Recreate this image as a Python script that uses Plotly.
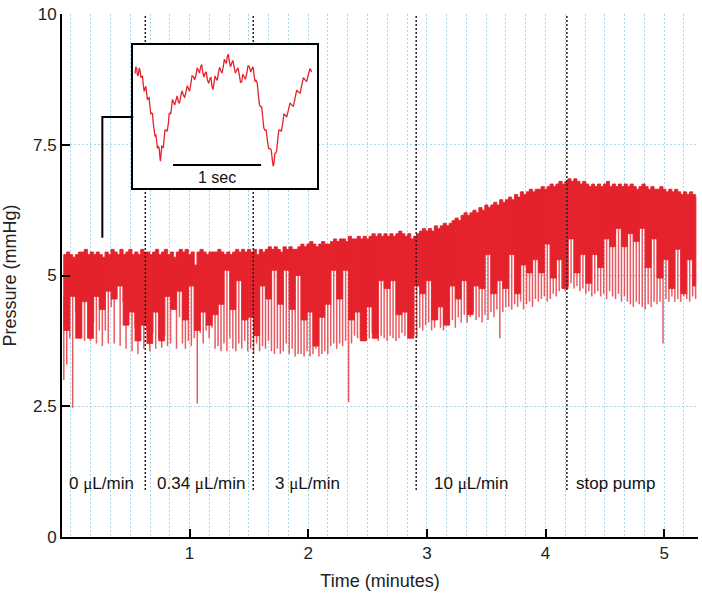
import plotly.graph_objects as go

# ---------------- main recording (sampled every 0.025 min) ----------------
t_start = -0.06
t_step = 0.025
upper = [
    5.4, 5.45, 5.4, 5.35, 5.4, 5.45, 5.45, 5.5, 5.4, 5.45,
    5.4, 5.45, 5.4, 5.35, 5.45, 5.4, 5.5, 5.45, 5.4, 5.5,
    5.4, 5.45, 5.5, 5.4, 5.45, 5.4, 5.5, 5.45, 5.45, 5.4,
    5.45, 5.5, 5.4, 5.45, 5.5, 5.4, 5.45, 5.35, 5.45, 5.5,
    5.45, 5.5, 5.4, 5.45, 5.2, 5.45, 5.5, 5.45, 5.4, 5.45,
    5.45, 5.45, 5.5, 5.45, 5.4, 5.45, 5.4, 5.45, 5.5, 5.45,
    5.5, 5.45, 5.5, 5.45, 5.5, 5.4, 5.5, 5.45, 5.5, 5.55,
    5.5, 5.55, 5.5, 5.45, 5.55, 5.5, 5.55, 5.5, 5.5, 5.55,
    5.6, 5.55, 5.6, 5.65, 5.6, 5.55, 5.6, 5.65, 5.6, 5.6,
    5.65, 5.7, 5.65, 5.7, 5.7, 5.65, 5.75, 5.7, 5.7, 5.75,
    5.7, 5.75, 5.7, 5.75, 5.8, 5.75, 5.8, 5.75, 5.8, 5.75,
    5.8, 5.75, 5.8, 5.85, 5.8, 5.75, 5.8, 5.7, 5.75, 5.8,
    5.85, 5.9, 5.85, 5.9, 5.85, 5.95, 5.9, 5.95, 6.0, 5.95,
    6.0, 6.05, 6.1, 6.05, 6.15, 6.2, 6.15, 6.2, 6.25, 6.2,
    6.3, 6.25, 6.35, 6.3, 6.35, 6.4, 6.35, 6.45, 6.4, 6.45,
    6.5, 6.45, 6.55, 6.5, 6.6, 6.55, 6.6, 6.65, 6.6, 6.65,
    6.65, 6.7, 6.65, 6.7, 6.75, 6.7, 6.75, 6.8, 6.75, 6.8,
    6.85, 6.8, 6.85, 6.8, 6.75, 6.8, 6.75, 6.7, 6.75, 6.7,
    6.75, 6.7, 6.75, 6.8, 6.7, 6.75, 6.7, 6.75, 6.7, 6.75,
    6.7, 6.75, 6.7, 6.65, 6.7, 6.75, 6.7, 6.65, 6.7, 6.65,
    6.65, 6.7, 6.65, 6.6, 6.65, 6.6, 6.65, 6.6, 6.55, 6.6,
    6.55, 6.6, 6.55, 6.5,
]
lower = [
    3.0, 3.3, 3.8, 2.47, 4.3, 3.9, 3.8, 3.75, 4.6, 3.75,
    4.1, 3.7, 3.95, 3.65, 3.95, 3.7, 4.4, 3.7, 4.8, 3.65,
    4.5, 3.6, 4.3, 3.55, 4.0, 3.5, 4.4, 3.6, 3.95, 3.55,
    3.9, 3.6, 3.8, 3.62, 3.85, 3.65, 3.7, 4.5, 3.6, 4.2,
    3.7, 3.6, 3.75, 3.65, 3.8, 2.55, 3.9, 3.7, 3.95, 3.8,
    4.0, 3.6, 3.65, 3.55, 3.7, 3.55, 3.8, 3.6, 3.55, 3.7,
    3.6, 3.75, 3.55, 3.6, 3.5, 3.7, 3.55, 3.65, 3.6, 3.75,
    3.55, 3.5, 3.6, 3.5, 3.55, 3.7, 3.5, 3.6, 3.45, 3.5,
    3.5, 3.45, 3.55, 3.45, 3.5, 3.6, 3.45, 3.5, 3.55, 3.5,
    3.65, 3.7, 3.6, 3.7, 3.65, 3.75, 2.58, 3.7, 3.85, 3.8,
    3.8, 3.85, 3.75, 3.8, 3.9, 3.8, 3.75, 3.85, 3.8, 3.75,
    3.85, 3.8, 3.75, 3.8, 3.9, 3.85, 3.8, 3.95, 3.85, 3.8,
    4.0, 3.95, 4.05, 4.1, 3.95, 4.0, 4.15, 4.0, 3.95, 4.1,
    4.05, 4.15, 4.0, 4.2, 4.1, 4.25, 4.1, 4.2, 4.3, 4.15,
    4.2, 4.1, 4.25, 4.15, 4.3, 4.2, 4.35, 3.8, 4.3, 4.4,
    4.4, 4.35, 4.45, 4.4, 4.5, 4.35, 4.45, 4.5, 4.4, 4.55,
    4.5, 4.55, 4.6, 4.5, 4.55, 4.65, 4.6, 4.7, 4.75, 4.7,
    4.8, 4.85, 4.75, 4.8, 4.7, 4.75, 4.65, 4.7, 4.6, 4.65,
    4.7, 4.6, 4.65, 4.55, 4.7, 4.6, 4.55, 4.65, 4.5, 4.6,
    4.5, 4.45, 4.4, 4.5, 4.45, 4.4, 4.35, 4.45, 4.4, 4.5,
    4.45, 4.5, 3.7, 4.55, 4.5, 4.6, 4.5, 4.55, 4.5, 4.6,
    4.55, 4.5, 4.6, 4.55,
]
time = [round(t_start + t_step * i, 4) for i in range(len(upper))]

# lower edge of the dense (solid) part of the trace, every second sample
core = [
    4.6, 3.95, 4.6, 3.8, 4.5, 3.8, 4.6, 4.35, 4.7, 4.55,
    4.8, 4.05, 4.3, 3.75, 4.05, 3.7, 4.3, 3.75, 4.6, 4.35,
    4.7, 4.15, 4.8, 3.95, 4.3, 4.05, 4.25, 4.45, 5.1, 4.35,
    4.9, 4.15, 4.2, 3.85, 4.8, 4.55, 5.1, 4.45, 5.1, 4.35,
    5.0, 4.15, 4.3, 3.65, 4.2, 4.45, 5.1, 4.55, 5.1, 4.15,
    4.3, 3.75, 4.4, 3.8, 4.9, 4.75, 4.9, 4.25, 4.3, 3.8,
    4.8, 4.65, 4.9, 4.15, 4.4, 4.05, 4.8, 4.55, 4.9, 4.25,
    4.8, 4.75, 5.4, 4.65, 4.9, 4.75, 5.4, 4.65, 5.2, 5.05,
    5.3, 5.05, 5.6, 4.95, 5.3, 4.75, 5.7, 5.05, 5.4, 4.85,
    5.4, 5.15, 5.7, 5.55, 5.9, 5.55, 5.8, 5.65, 5.9, 5.15,
    5.7, 4.95, 5.3, 4.75, 5.5, 4.65, 5.3, 4.8,
]
core_t = time[::2] + [time[-1]]

# flow-rate changes
event_times = [0.627, 1.537, 2.91, 4.18]
label_times = [-0.03, 0.71, 1.70, 3.04, 4.24]
MU = "<span style='font-family:Liberation Serif'>\u03bc</span>"
label_texts = ["0 " + MU + "L/min", "0.34 " + MU + "L/min", "3 " + MU + "L/min",
               "10 " + MU + "L/min", "stop pump"]

# ---------------- inset: 2 s of raw trace ----------------
inset_t = [
    0.023, 0.0325, 0.042, 0.0515, 0.061, 0.0705, 0.080, 0.0895, 0.099, 0.108,
    0.117, 0.1265, 0.136, 0.1455, 0.155, 0.1645, 0.174, 0.1835, 0.193, 0.2025,
    0.212, 0.2215, 0.231, 0.2405, 0.250, 0.2595, 0.269, 0.2785, 0.288, 0.2975,
    0.307, 0.3125, 0.318, 0.3275, 0.337, 0.3445, 0.352, 0.3635, 0.375, 0.3885,
    0.402, 0.411, 0.420, 0.4295, 0.439, 0.4485, 0.458, 0.4735, 0.489, 0.502,
    0.515, 0.5285, 0.542, 0.557, 0.572, 0.587, 0.602, 0.6155, 0.629, 0.642,
    0.655, 0.6705, 0.686, 0.701, 0.716, 0.729, 0.742, 0.7555, 0.769, 0.7805,
    0.792, 0.805, 0.818, 0.8315, 0.845, 0.86, 0.875, 0.8865, 0.898, 0.909,
    0.920, 0.9315, 0.943, 0.9565, 0.970, 0.983, 0.996, 1.011, 1.026, 1.0375,
    1.049, 1.0605, 1.072, 1.0835, 1.095, 1.108, 1.121, 1.1345, 1.148, 1.163,
    1.178, 1.193, 1.208, 1.2215, 1.235, 1.248, 1.261, 1.2765, 1.292, 1.307,
    1.322, 1.337, 1.352, 1.3635, 1.375, 1.3865, 1.398, 1.411, 1.424, 1.4375,
    1.451, 1.462, 1.473, 1.4865, 1.500, 1.513, 1.526, 1.5415, 1.557, 1.57,
    1.583, 1.5925, 1.602, 1.6115, 1.621, 1.6325, 1.644, 1.657, 1.670, 1.6855,
    1.701, 1.714, 1.727, 1.746, 1.765, 1.784, 1.803, 1.822, 1.841, 1.86,
    1.879, 1.898, 1.917, 1.936, 1.955, 1.9735, 1.992, 2.011, 2.030,
]
inset_p = [
    5.50, 5.62, 5.59, 5.46, 5.48, 5.60, 5.56, 5.43, 5.45, 5.46,
    5.30, 5.19, 5.24, 5.28, 5.16, 5.04, 5.07, 5.08, 4.92, 4.79,
    4.81, 4.80, 4.63, 4.44, 4.40, 4.44, 4.31, 4.19, 4.22, 4.20,
    4.02, 3.97, 4.08, 4.23, 4.22, 4.20, 4.34, 4.51, 4.51, 4.49,
    4.63, 4.80, 4.81, 4.79, 4.92, 5.05, 5.01, 4.95, 5.04, 5.11,
    5.01, 4.98, 5.10, 5.20, 5.13, 5.08, 5.18, 5.29, 5.24, 5.19,
    5.30, 5.46, 5.45, 5.39, 5.48, 5.60, 5.56, 5.51, 5.62, 5.66,
    5.53, 5.44, 5.50, 5.53, 5.39, 5.33, 5.42, 5.43, 5.27, 5.22,
    5.33, 5.46, 5.42, 5.38, 5.50, 5.61, 5.56, 5.51, 5.62, 5.75,
    5.71, 5.68, 5.80, 5.84, 5.71, 5.62, 5.68, 5.73, 5.62, 5.51,
    5.56, 5.60, 5.48, 5.34, 5.36, 5.49, 5.45, 5.40, 5.50, 5.64,
    5.62, 5.53, 5.59, 5.62, 5.48, 5.36, 5.39, 5.34, 5.13, 4.95,
    4.92, 4.92, 4.75, 4.55, 4.51, 4.51, 4.34, 4.19, 4.19, 4.17,
    3.99, 3.88, 3.93, 4.10, 4.11, 4.15, 4.34, 4.51, 4.51, 4.49,
    4.63, 4.79, 4.78, 4.74, 4.86, 4.99, 4.95, 4.93, 5.07, 5.21,
    5.18, 5.16, 5.30, 5.43, 5.39, 5.36, 5.48, 5.59, 5.53,
]
scale_bar_t = [0.455, 1.455]
scale_bar_p = [3.90, 3.90]

RED = "rgb(228,35,44)"
GRID = "rgb(168,214,232)"
GRID_DASH = "2px,2px"
FONT = "Liberation Sans, Arial, sans-serif"

fig = go.Figure()

# dense band
fig.add_trace(go.Scatter(
    x=time + core_t[::-1], y=upper + core[::-1], mode="lines",
    fill="toself", fillcolor=RED, line=dict(color=RED, width=0.8, shape="hv"),
    hoverinfo="skip", showlegend=False))

# individual beats reaching down to the minima
sx, sy = [], []
for t, u, l in zip(time, upper, lower):
    sx += [t, t, None]
    sy += [u, l, None]
fig.add_trace(go.Scatter(
    x=sx, y=sy, mode="lines", line=dict(color="rgba(228,35,44,0.75)", width=1.5),
    hoverinfo="skip", showlegend=False))

# event markers (dotted lines)
ex, ey = [], []
for t in event_times:
    ex += [t, t, None]
    ey += [0.9, 10, None]
fig.add_trace(go.Scatter(
    x=ex, y=ey, mode="lines", line=dict(color="#222", width=1.5, dash="2px,2px"),
    hoverinfo="skip", showlegend=False))

# inset trace
fig.add_trace(go.Scatter(
    x=inset_t, y=inset_p, mode="lines", line=dict(color=RED, width=1.3),
    xaxis="x2", yaxis="y2", hoverinfo="skip", showlegend=False))
fig.add_trace(go.Scatter(
    x=scale_bar_t, y=scale_bar_p, mode="lines", line=dict(color="black", width=2),
    xaxis="x2", yaxis="y2", hoverinfo="skip", showlegend=False))

for t, txt in zip(label_times, label_texts):
    fig.add_annotation(x=t, y=1.03, xref="x", yref="y", text=txt, showarrow=False,
                       xanchor="left", yanchor="middle",
                       font=dict(family=FONT, size=17, color="#111"))

fig.add_annotation(x=0.955, y=3.69, xref="x2", yref="y2", text="1 sec",
                   showarrow=False, xanchor="center", yanchor="middle",
                   font=dict(family=FONT, size=16, color="#111"))

# white background of inset (between gridlines and traces of the inset subplot)
INSET_X = [0, 2.09]
INSET_Y = [3.5, 6.0]
fig.add_shape(type="rect", xref="x2", yref="y2", x0=INSET_X[0], x1=INSET_X[1],
              y0=INSET_Y[0], y1=INSET_Y[1], fillcolor="white",
              line=dict(width=0), layer="between")

# connector from trace to inset
fig.add_shape(type="path", xref="x", yref="y",
              path="M 0.526 8.03 L 0.265 8.03 L 0.265 5.72",
              line=dict(color="black", width=2), layer="above")

fig.update_layout(
    width=702, height=593,
    margin=dict(l=62, r=4, t=14, b=56),
    paper_bgcolor="white", plot_bgcolor="white",
    font=dict(family=FONT, size=17, color="#222"),
    xaxis=dict(
        range=[-0.075, 5.285], tickvals=[1, 2, 3, 4, 5],
        ticks="inside", ticklen=8, tickwidth=2, tickcolor="black",
        showline=True, linecolor="black", linewidth=2,
        showgrid=True, gridcolor=GRID, griddash=GRID_DASH, gridwidth=1,
        minor=dict(tick0=0, dtick=1 / 6, showgrid=True, gridcolor=GRID,
                   griddash=GRID_DASH, gridwidth=1),
        zeroline=False,
        title=dict(text="Time (minutes)", font=dict(size=18), standoff=12),
        tickfont=dict(size=17),
    ),
    yaxis=dict(
        range=[0, 10], tickvals=[0, 2.5, 5, 7.5, 10],
        ticktext=["0", "2.5", "5", "7.5", "10"],
        ticks="inside", ticklen=8, tickwidth=2, tickcolor="black",
        showline=True, linecolor="black", linewidth=2,
        showgrid=True, gridcolor=GRID, griddash=GRID_DASH, gridwidth=1,
        zeroline=False,
        title=dict(text="Pressure (mmHg)", font=dict(size=18), standoff=12),
        tickfont=dict(size=17),
    ),
    xaxis2=dict(
        domain=[0.1116, 0.4009], anchor="y2", range=INSET_X,
        showline=True, mirror=True, linecolor="black", linewidth=2,
        showticklabels=False, ticks="", zeroline=False,
        showgrid=True, tick0=0, dtick=0.05, gridcolor=GRID, griddash=GRID_DASH,
        gridwidth=1,
    ),
    yaxis2=dict(
        domain=[0.6673, 0.9407], anchor="x2", range=INSET_Y,
        showline=True, mirror=True, linecolor="black", linewidth=2,
        showticklabels=False, ticks="", zeroline=False,
        showgrid=True, tick0=3.87, dtick=0.5, gridcolor=GRID, griddash=GRID_DASH,
        gridwidth=1,
    ),
)

fig.write_html("out.html", config={"displayModeBar": False},
               post_script="document.body.style.margin='0';")
